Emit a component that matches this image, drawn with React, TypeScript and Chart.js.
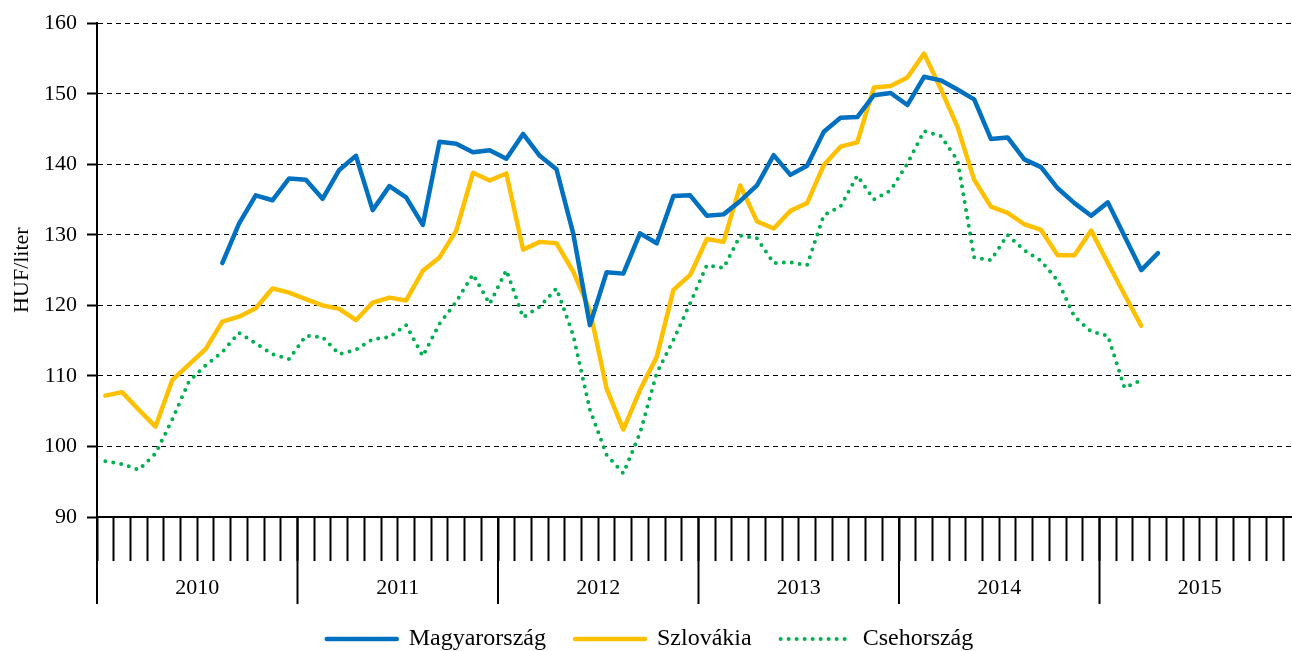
import React, { useEffect, useRef } from 'react';
import { Chart, registerables } from 'chart.js';

Chart.register(...registerables);

const years = ['2010', '2011', '2012', '2013', '2014', '2015'];
const monthNames = ['jan.', 'febr.', 'márc.', 'ápr.', 'máj.', 'jún.', 'júl.', 'aug.', 'szept.', 'okt.', 'nov.', 'dec.'];
const categories = years.flatMap((y) => monthNames.map((m) => `${y}. ${m}`));

const yTicks = { min: 90, max: 160, step: 10 };

// HUF/liter, monthly, Jan 2010 – Dec 2015
const magyarorszag: (number | null)[] = [
  null, null, null, null, null, null, null, 126.0, 131.6, 135.6, 134.9, 138.0,
  137.8, 135.1, 139.2, 141.2, 133.5, 136.9, 135.3, 131.4, 143.2, 142.9, 141.7, 142.0,
  140.8, 144.3, 141.2, 139.3, 130.2, 117.2, 124.7, 124.5, 130.2, 128.8, 135.5, 135.6,
  132.7, 132.9, 134.8, 137.0, 141.3, 138.5, 139.8, 144.6, 146.6, 146.7, 149.8, 150.1,
  148.4, 152.4, 151.9, 150.6, 149.2, 143.6, 143.8, 140.7, 139.6, 136.6, 134.5, 132.7,
  134.6, 129.8, 125.0, 127.4, null, null, null, null, null, null, null, null,
];

const szlovakia: (number | null)[] = [
  107.2, 107.7, 105.2, 102.8, 109.4, 111.6, 113.8, 117.7, 118.4, 119.6, 122.4, 121.8,
  120.9, 120.0, 119.5, 117.9, 120.4, 121.1, 120.7, 124.9, 126.8, 130.6, 138.8, 137.7,
  138.7, 127.9, 129.0, 128.8, 124.8, 119.3, 108.2, 102.4, 108.0, 112.7, 122.2, 124.3,
  129.4, 129.0, 137.0, 131.9, 130.9, 133.4, 134.5, 139.9, 142.5, 143.1, 150.9, 151.1,
  152.3, 155.7, 150.7, 145.3, 137.8, 134.0, 133.1, 131.5, 130.7, 127.1, 127.1, 130.6,
  126.0, 121.5, 117.1, null, null, null, null, null, null, null, null, null,
];

const csehorszag: (number | null)[] = [
  97.9, 97.5, 96.7, 99.0, 103.8, 109.2, 111.5, 113.4, 116.1, 114.6, 113.1, 112.4,
  115.7, 115.5, 113.1, 113.7, 115.2, 115.5, 117.2, 112.8, 117.4, 120.5, 124.4, 120.2,
  125.0, 118.3, 119.8, 122.4, 115.8, 105.2, 98.8, 96.2, 101.9, 110.4, 115.1, 120.3,
  125.7, 125.3, 129.9, 129.5, 126.0, 126.1, 125.7, 132.8, 134.0, 138.4, 135.0, 136.3,
  140.1, 144.7, 144.0, 140.6, 126.8, 126.4, 130.0, 127.8, 126.3, 123.5, 118.4, 116.3,
  115.7, 108.3, 109.4, null, null, null, null, null, null, null, null, null,
];

const seriesNames = ['Magyarország', 'Szlovákia', 'Csehország'];

const FONT = '"Liberation Serif", "Times New Roman", serif';

const yearBoundaryPlugin = {
  id: 'yearBoundaries',
  afterDraw(chart: any) {
    const xs = chart.scales.x;
    const { bottom } = chart.chartArea;
    const ctx = chart.ctx;
    ctx.save();
    ctx.strokeStyle = '#000';
    ctx.lineWidth = 2;
    ctx.beginPath();
    for (let i = 0; i <= categories.length; i += 12) {
      const px = xs.getPixelForValue(i - 0.5);
      ctx.moveTo(px, bottom);
      ctx.lineTo(px, bottom + 87);
    }
    ctx.stroke();
    ctx.restore();
  },
};

export default function App() {
  const ref = useRef<HTMLCanvasElement | null>(null);

  useEffect(() => {
    if (!ref.current) return;
    const chart = new Chart(ref.current, {
      type: 'line',
      data: {
        labels: categories,
        datasets: [
          {
            label: seriesNames[0],
            data: magyarorszag,
            borderColor: '#0070C0',
            backgroundColor: '#0070C0',
            borderWidth: 4.5,
            borderCapStyle: 'round',
            borderJoinStyle: 'round',
            pointRadius: 0,
            tension: 0,
          },
          {
            label: seriesNames[1],
            data: szlovakia,
            borderColor: '#FFC000',
            backgroundColor: '#FFC000',
            borderWidth: 4.5,
            borderCapStyle: 'round',
            borderJoinStyle: 'round',
            pointRadius: 0,
            tension: 0,
          },
          {
            label: seriesNames[2],
            data: csehorszag,
            borderColor: '#00B050',
            backgroundColor: '#00B050',
            borderWidth: 4,
            borderDash: [0, 8],
            borderCapStyle: 'round',
            pointRadius: 0,
            tension: 0,
          },
        ],
      },
      options: {
        animation: false,
        responsive: true,
        maintainAspectRatio: false,
        layout: { padding: { left: 0, right: 20, top: 23, bottom: 0 } },
        plugins: {
          tooltip: { enabled: false },
          legend: {
            position: 'bottom',
            labels: {
              usePointStyle: true,
              pointStyle: 'line',
              pointStyleWidth: 70,
              padding: 29,
              color: '#000',
              font: { family: FONT, size: 24 },
              generateLabels: (c: any) => {
                const items = Chart.defaults.plugins.legend.labels.generateLabels(c);
                items.forEach((it: any, i: number) => {
                  const ds: any = c.data.datasets[i];
                  it.lineDash = ds.borderDash || [];
                  it.lineWidth = ds.borderWidth;
                  it.lineCap = ds.borderCapStyle || 'butt';
                  it.strokeStyle = ds.borderColor;
                  it.pointStyle = 'line';
                });
                return items;
              },
            },
          },
        },
        scales: {
          x: {
            type: 'category',
            offset: true,
            grid: {
              display: true,
              drawOnChartArea: false,
              drawTicks: true,
              tickLength: 44,
              tickWidth: 2,
              tickColor: '#000',
              offset: true,
            },
            border: { display: true, color: '#000', width: 2 },
            ticks: {
              autoSkip: false,
              maxRotation: 0,
              minRotation: 0,
              padding: 14,
              labelOffset: -8.35,
              color: '#000',
              font: { family: FONT, size: 22 },
              callback: (_v: any, idx: number) => (idx % 12 === 6 ? years[Math.floor(idx / 12)] : ''),
            },
            afterFit: (s: any) => {
              s.height = 81;
            },
          },
          y: {
            min: yTicks.min,
            max: yTicks.max,
            ticks: {
              stepSize: yTicks.step,
              padding: 10,
              color: '#000',
              font: { family: FONT, size: 22 },
            },
            grid: {
              color: '#000',
              lineWidth: 1,
              drawTicks: true,
              tickLength: 10,
              tickColor: '#000',
              tickWidth: 2,
              tickBorderDash: [],
            },
            border: { display: true, color: '#000', width: 2, dash: [5, 4] },
            title: {
              display: true,
              text: 'HUF/liter',
              color: '#000',
              font: { family: FONT, size: 22 },
              padding: { top: 9, bottom: 0 },
            },
            afterFit: (s: any) => {
              s.width = 97;
            },
          },
        },
      },
      plugins: [yearBoundaryPlugin],
    });
    return () => chart.destroy();
  }, []);

  return (
    <div
      style={{
        position: 'fixed',
        left: 0,
        top: 0,
        width: 1292,
        height: 651,
        overflow: 'hidden',
        background: '#fff',
      }}
    >
      <div style={{ position: 'relative', width: 1320, height: 661 }}>
        <canvas ref={ref} />
      </div>
    </div>
  );
}
